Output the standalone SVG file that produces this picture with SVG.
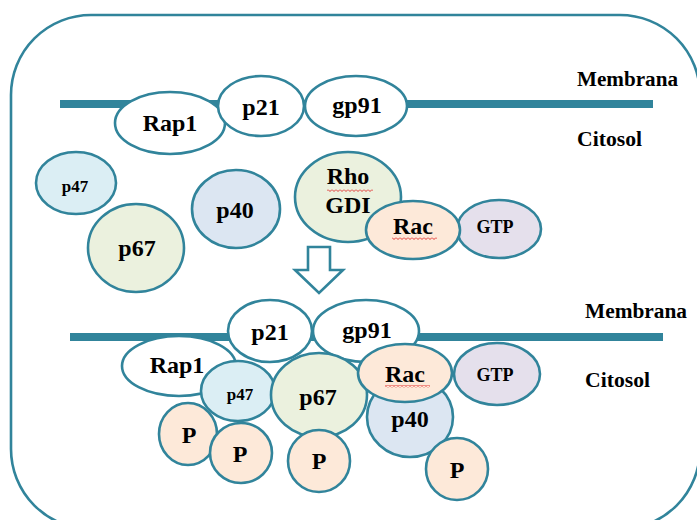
<svg xmlns="http://www.w3.org/2000/svg" width="697" height="520" viewBox="0 0 697 520">
<style>
.n{stroke:#31849b;stroke-width:2.6}
.w{fill:#ffffff}
.p47{fill:#dbeef4}
.p67{fill:#ebf1de}
.p40{fill:#dce6f2}
.rac{fill:#fde9d9}
.gtp{fill:#e5e0ec}
.mem{stroke:#31849b;stroke-width:8;fill:none}
text{font-family:"Liberation Serif","Times New Roman",serif;font-weight:bold;fill:#000;text-anchor:middle}
.l{font-size:24px}
.s{font-size:17px}
.g{font-size:18px}
.side{font-size:20px;text-anchor:start}
</style>
<defs>
<pattern id="sq" x="0" y="0" width="4" height="3" patternUnits="userSpaceOnUse">
<polyline points="0,0.5 2,2.5 4,0.5" fill="none" stroke="#e02020" stroke-width="0.9"/>
</pattern>
</defs>
<rect x="11" y="15" width="689" height="514" rx="80" ry="80" fill="#ffffff" stroke="#31849b" stroke-width="2.6"/>
<g id="membranes">
<line class="mem" x1="60" y1="104" x2="653" y2="104"/>
<line class="mem" x1="70" y1="337" x2="663" y2="337"/>
</g>
<g id="labels">
<text class="side" x="577" y="86" textLength="101" lengthAdjust="spacingAndGlyphs">Membrana</text>
<text class="side" x="577" y="146" textLength="65" lengthAdjust="spacingAndGlyphs">Citosol</text>
<text class="side" x="585" y="318" textLength="102" lengthAdjust="spacingAndGlyphs">Membrana</text>
<text class="side" x="585" y="387" textLength="65" lengthAdjust="spacingAndGlyphs">Citosol</text>
</g>
<g id="top-rap1"><ellipse class="n w" cx="170" cy="123" rx="55" ry="31"/><text class="l" x="170" y="131">Rap1</text></g>
<g id="top-p21"><ellipse class="n w" cx="261" cy="106" rx="43" ry="30"/><text class="l" x="261" y="115">p21</text></g>
<g id="top-gp91"><ellipse class="n w" cx="356" cy="106" rx="51" ry="30"/><text class="l" x="357" y="113">gp91</text></g>
<g id="top-p47"><ellipse class="n p47" cx="76" cy="183" rx="40" ry="31"/><text class="s" x="75" y="192">p47</text></g>
<g id="top-p67"><ellipse class="n p67" cx="136" cy="248" rx="48" ry="44"/><text class="l" x="137" y="256">p67</text></g>
<g id="top-p40"><ellipse class="n p40" cx="236" cy="209" rx="44" ry="39"/><text class="l" x="235" y="218">p40</text></g>
<g id="top-rhogdi"><ellipse class="n p67" cx="348" cy="197" rx="53" ry="45"/><text class="l" x="348" y="184">Rho</text><text class="l" x="348" y="213">GDI</text><rect x="327" y="189" width="46" height="3" fill="url(#sq)"/></g>
<g id="top-gtp"><ellipse class="n gtp" cx="499" cy="229" rx="42" ry="29"/><text class="g" x="495" y="233">GTP</text></g>
<g id="top-rac"><ellipse class="n rac" cx="413" cy="230" rx="47" ry="29"/><text class="l" x="413" y="234">Rac</text><rect x="392" y="237" width="45" height="3" fill="url(#sq)"/></g>
<g id="connectors">
<polygon points="308,247 330,247 330,270 343,270 319,293 295,270 308,270" fill="#ffffff" stroke="#31849b" stroke-width="2.6" stroke-linejoin="miter"/>
</g>
<g id="bot-p21"><ellipse class="n w" cx="270" cy="331" rx="42" ry="31"/><text class="l" x="270" y="340">p21</text></g>
<g id="bot-gp91"><ellipse class="n w" cx="366" cy="331" rx="53" ry="31"/><text class="l" x="367" y="338">gp91</text></g>
<g id="bot-rap1"><ellipse class="n w" cx="179" cy="366" rx="57" ry="30"/><text class="l" x="177" y="373">Rap1</text></g>
<g id="bot-p47"><ellipse class="n p47" cx="238" cy="391" rx="37" ry="30"/><text class="s" x="240" y="400">p47</text></g>
<g id="bot-p67"><ellipse class="n p67" cx="319" cy="395" rx="48" ry="42"/><text class="l" x="318" y="405">p67</text></g>
<g id="bot-p40"><ellipse class="n p40" cx="410" cy="417" rx="43" ry="40"/><text class="l" x="410" y="427">p40</text></g>
<g id="bot-gtp"><ellipse class="n gtp" cx="497" cy="374" rx="43" ry="31"/><text class="g" x="495" y="381">GTP</text></g>
<g id="bot-rac"><ellipse class="n rac" cx="405" cy="373" rx="47" ry="29"/><text class="l" x="405" y="382">Rac</text><rect x="385" y="385" width="45" height="3" fill="url(#sq)"/></g>
<g id="bot-P1"><ellipse class="n rac" cx="188" cy="434" rx="29" ry="31"/><text class="l" x="189" y="443">P</text></g>
<g id="bot-P2"><ellipse class="n rac" cx="241" cy="453" rx="31" ry="30"/><text class="l" x="240" y="462">P</text></g>
<g id="bot-P3"><ellipse class="n rac" cx="319" cy="461" rx="31" ry="31"/><text class="l" x="319" y="469">P</text></g>
<g id="bot-P4"><ellipse class="n rac" cx="457" cy="469" rx="31" ry="31"/><text class="l" x="457" y="478">P</text></g>
</svg>
